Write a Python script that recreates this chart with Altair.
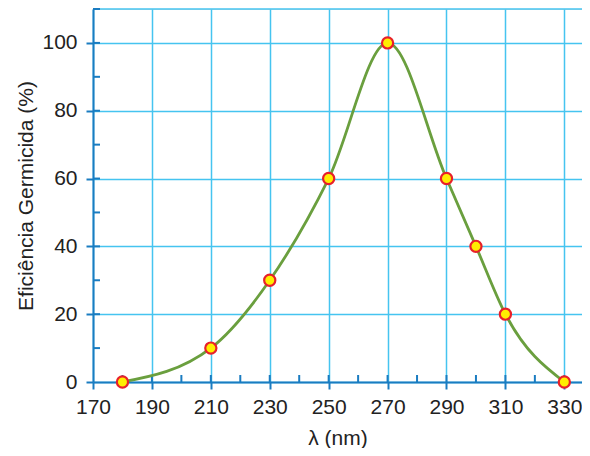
import altair as alt
import pandas as pd

# data
wavelength = [180, 210, 230, 250, 270, 290, 300, 310, 330]
efficiency = [0, 10, 30, 60, 100, 60, 40, 20, 0]

x_ticks = [170, 190, 210, 230, 250, 270, 290, 310, 330]
x_minor = [180, 200, 220, 240, 260, 280, 300, 320]
y_ticks = [0, 20, 40, 60, 80, 100]
y_minor = [10, 30, 50, 70, 90, 110]
y_major_inner = [20, 40, 60, 80, 100]
x_major_inner = [190, 210, 230, 250, 270, 290, 310, 330]
y_top = [110]

df = pd.DataFrame({"wl": wavelength, "eff": efficiency})

W, H = 489, 373
AXIS = "#1a7cc1"
GRID = "#45c4f0"
FONT = "Liberation Sans"

xs = alt.Scale(domain=[170, 336], nice=False, zero=False)
ys = alt.Scale(domain=[0, 110], nice=False)

xaxis = alt.Axis(values=x_ticks, title="λ (nm)", grid=True, gridColor=GRID, gridWidth=1.5,
                 domainColor=AXIS, domainWidth=2, tickColor=AXIS, tickWidth=2, tickSize=7,
                 labelFont=FONT, labelFontSize=21, labelColor="#222", labelPadding=7,
                 labelFlush=False, labelOverlap=False,
                 titleFont=FONT, titleFontSize=21, titleColor="#222", titleFontWeight="normal",
                 titlePadding=10, zindex=0)
yaxis = alt.Axis(values=y_ticks, title="Eficiência Germicida (%)", grid=True, gridColor=GRID,
                 gridWidth=1.5, domainColor=AXIS, domainWidth=2, tickColor=AXIS, tickWidth=2,
                 tickSize=7, labelFont=FONT, labelFontSize=21, labelColor="#222", labelPadding=9,
                 labelFlush=False, labelOverlap=False,
                 titleFont=FONT, titleFontSize=21, titleColor="#222", titleFontWeight="normal",
                 titlePadding=5, zindex=0)

base = alt.Chart(df)

line = base.mark_line(interpolate="monotone", color="#6a9f3e", strokeWidth=2.8).encode(
    x=alt.X("wl:Q", scale=xs, axis=xaxis),
    y=alt.Y("eff:Q", scale=ys, axis=yaxis),
)

pts = base.mark_point(filled=True, fill="#ffee00", stroke="#e8202a", strokeWidth=2.2,
                      size=125, opacity=1).encode(
    x=alt.X("wl:Q", scale=xs),
    y=alt.Y("eff:Q", scale=ys),
)

# top grid line
top = alt.Chart(pd.DataFrame({"v": y_top})).mark_rule(color=GRID, strokeWidth=1.5).encode(
    y=alt.Y("v:Q", scale=ys),
    x=alt.value(0),
    x2=alt.value(W),
)

# inner tick parts
ytick_df = pd.DataFrame({"v": y_minor + y_major_inner})
ytick = alt.Chart(ytick_df).mark_rule(color=AXIS, strokeWidth=2).encode(
    y=alt.Y("v:Q", scale=ys),
    x=alt.value(0),
    x2=alt.value(7),
)
xtick_df = pd.DataFrame({"v": x_minor + x_major_inner})
xtick = alt.Chart(xtick_df).mark_rule(color=AXIS, strokeWidth=2).encode(
    x=alt.X("v:Q", scale=xs),
    y=alt.value(H),
    y2=alt.value(H - 7),
)

chart = alt.layer(top, ytick, xtick, line, pts).properties(
    width=W, height=H,
    autosize=alt.AutoSizeParams(type="none"),
    padding={"left": 85, "top": 1, "right": 0, "bottom": 66},
).configure_view(stroke=None).configure(background="white")

chart.save("out.html", embed_options={"renderer": "svg", "actions": False})
